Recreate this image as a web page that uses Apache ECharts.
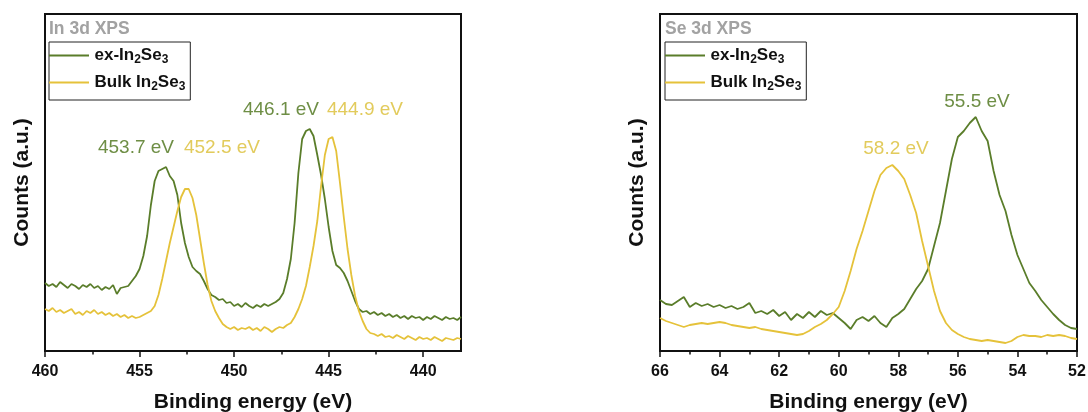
<!DOCTYPE html>
<html>
<head>
<meta charset="utf-8">
<script src="https://cdn.jsdelivr.net/npm/echarts@6/dist/echarts.min.js"></script>
<style>
  html, body { margin: 0; padding: 0; background: #fff; }
  #chart { width: 1088px; height: 412px; }
</style>
</head>
<body>
<div id="chart"></div>
<script>
// In 3d spectra: [binding energy (eV), counts (a.u.)]
const inExSpectrum = [[460.0,68],[459.8,65],[459.6,67],[459.4,64],[459.2,69],[459.0,66],[458.8,63],[458.6,67],[458.4,65],[458.2,62],[458.0,66],[457.8,64],[457.6,67],[457.4,63],[457.2,65],[457.0,61],[456.8,64],[456.6,62],[456.4,66],[456.2,57],[456.0,63],[455.8,64],[455.6,65],[455.4,70],[455.2,75],[455.0,82],[454.8,95],[454.6,115],[454.4,146],[454.2,170],[454.0,180],[453.8,182],[453.6,184],[453.4,175],[453.2,170],[453.0,156],[452.8,128],[452.6,108],[452.4,94],[452.2,84],[452.0,80],[451.8,77],[451.6,70],[451.4,62],[451.2,56],[451.0,54],[450.8,51],[450.6,52],[450.4,48],[450.2,49],[450.0,45],[449.8,47],[449.6,44],[449.4,48],[449.2,45],[449.0,43],[448.8,46],[448.6,44],[448.4,47],[448.2,45],[448.0,47],[447.8,49],[447.6,52],[447.4,58],[447.2,72],[447.0,92],[446.8,128],[446.6,178],[446.4,212],[446.2,220],[446.0,222],[445.8,215],[445.6,196],[445.4,176],[445.2,152],[445.0,124],[444.8,100],[444.6,86],[444.4,83],[444.2,78],[444.0,70],[443.8,60],[443.6,50],[443.4,42],[443.2,39],[443.0,40],[442.8,37],[442.6,39],[442.4,36],[442.2,38],[442.0,35],[441.8,37],[441.6,34],[441.4,36],[441.2,33],[441.0,35],[440.8,32],[440.6,35],[440.4,33],[440.2,34],[440.0,31],[439.8,34],[439.6,32],[439.4,35],[439.2,33],[439.0,31],[438.8,34],[438.6,32],[438.4,33],[438.2,31],[438.0,34]];

const inBulkSpectrum = [[460.0,42],[459.8,40],[459.6,43],[459.4,39],[459.2,41],[459.0,38],[458.8,40],[458.6,42],[458.4,37],[458.2,39],[458.0,36],[457.8,40],[457.6,38],[457.4,41],[457.2,37],[457.0,39],[456.8,36],[456.6,38],[456.4,35],[456.2,37],[456.0,34],[455.8,36],[455.6,33],[455.4,35],[455.2,33],[455.0,34],[454.8,36],[454.6,38],[454.4,40],[454.2,45],[454.0,56],[453.8,72],[453.6,90],[453.4,108],[453.2,124],[453.0,140],[452.8,154],[452.6,162],[452.4,162],[452.2,153],[452.0,136],[451.8,112],[451.6,88],[451.4,66],[451.2,50],[451.0,40],[450.8,33],[450.6,27],[450.4,24],[450.2,22],[450.0,24],[449.8,21],[449.6,23],[449.4,22],[449.2,24],[449.0,21],[448.8,23],[448.6,20],[448.4,24],[448.2,22],[448.0,19],[447.8,22],[447.6,24],[447.4,23],[447.2,26],[447.0,28],[446.8,34],[446.6,42],[446.4,52],[446.2,65],[446.0,84],[445.8,105],[445.6,130],[445.4,165],[445.2,196],[445.0,212],[444.8,214],[444.6,200],[444.4,168],[444.2,134],[444.0,102],[443.8,76],[443.6,55],[443.4,40],[443.2,30],[443.0,22],[442.8,18],[442.6,17],[442.4,15],[442.2,17],[442.0,14],[441.8,15],[441.6,13],[441.4,16],[441.2,14],[441.0,12],[440.8,15],[440.6,13],[440.4,11],[440.2,14],[440.0,12],[439.8,13],[439.6,11],[439.4,14],[439.2,12],[439.0,10],[438.8,13],[438.6,12],[438.4,11],[438.2,13],[438.0,12]];

// Se 3d spectra
const seExSpectrum = [[66.0,51],[65.8,47],[65.6,46],[65.4,50],[65.2,54],[65.0,44],[64.8,48],[64.6,45],[64.4,47],[64.2,44],[64.0,46],[63.8,43],[63.6,45],[63.4,42],[63.2,44],[63.0,48],[62.8,38],[62.6,40],[62.4,37],[62.2,41],[62.0,35],[61.8,39],[61.6,31],[61.4,37],[61.2,33],[61.0,39],[60.8,34],[60.6,40],[60.4,36],[60.2,38],[60.0,33],[59.8,28],[59.6,22],[59.4,31],[59.2,34],[59.0,30],[58.8,35],[58.6,28],[58.4,24],[58.2,33],[58.0,37],[57.8,42],[57.6,52],[57.4,62],[57.2,70],[57.0,82],[56.8,105],[56.6,128],[56.4,160],[56.2,192],[56.0,214],[55.8,220],[55.6,228],[55.4,234],[55.2,220],[55.0,210],[54.8,180],[54.6,156],[54.4,140],[54.2,116],[54.0,96],[53.8,82],[53.6,68],[53.4,60],[53.2,51],[53.0,44],[52.8,37],[52.6,31],[52.4,26],[52.2,23],[52.0,22]];

const seBulkSpectrum = [[66.0,33],[65.8,30],[65.6,28],[65.4,26],[65.2,24],[65.0,26],[64.8,27],[64.6,28],[64.4,27],[64.2,28],[64.0,29],[63.8,28],[63.6,26],[63.4,25],[63.2,24],[63.0,23],[62.8,24],[62.6,22],[62.4,21],[62.2,20],[62.0,19],[61.8,18],[61.6,17],[61.4,16],[61.2,17],[61.0,20],[60.8,24],[60.6,27],[60.4,31],[60.2,37],[60.0,44],[59.8,60],[59.6,80],[59.4,102],[59.2,120],[59.0,140],[58.8,160],[58.6,176],[58.4,183],[58.2,186],[58.0,180],[57.8,172],[57.6,156],[57.4,138],[57.2,110],[57.0,85],[56.8,60],[56.6,40],[56.4,28],[56.2,21],[56.0,17],[55.8,14],[55.6,12],[55.4,11],[55.2,10],[55.0,11],[54.8,10],[54.6,9],[54.4,8],[54.2,10],[54.0,14],[53.8,16],[53.6,15],[53.4,15],[53.2,14],[53.0,16],[52.8,15],[52.6,16],[52.4,15],[52.2,13],[52.0,12]];

// Axis ticks
const inMajorTicks = [460, 455, 450, 445, 440];
const inMinorTicks = [457.5, 452.5, 447.5, 442.5];
const seMajorTicks = [66, 64, 62, 60, 58, 56, 54, 52];

// Series names and peak annotations
const seriesNames = ['ex-In2Se3', 'Bulk In2Se3'];
const panelTitles = ['In 3d XPS', 'Se 3d XPS'];
const peakLabels = ['453.7 eV', '452.5 eV', '446.1 eV', '444.9 eV', '58.2 eV', '55.5 eV'];

const GREEN = '#5a7d2a';
const YELLOW = '#e5c23a';
const GREEN_TXT = '#6e8e45';
const YELLOW_TXT = '#e2cb5c';
const FONT = '"Liberation Sans", Arial, sans-serif';

const chart = echarts.init(document.getElementById('chart'), null, { renderer: 'canvas' });

function subscriptName(name) {
  // ex-In2Se3 -> rich text with subscript digits
  return name.split(/(\d)/).filter(s => s.length)
    .map(s => /\d/.test(s) ? '{s|' + s + '}' : '{n|' + s + '}').join('');
}

const legendRich = {
  n: { fontSize: 17, fontWeight: 'bold', color: '#111', fontFamily: FONT },
  s: { fontSize: 12, fontWeight: 'bold', color: '#111', fontFamily: FONT, padding: [9, 0, 0, 0] }
};

function legendFor(left) {
  return {
    data: seriesNames,
    orient: 'vertical',
    left: left, top: 42,
    icon: 'path://M0,0H40V2H0Z',
    itemWidth: 41, itemHeight: 2, itemGap: 8,
    padding: [5, 5, 7, 0],
    borderColor: '#222', borderWidth: 1,
    selectedMode: false,
    formatter: subscriptName,
    textStyle: { rich: legendRich, fontFamily: FONT }
  };
}

const frameGrid = (left, width) => ({
  left: left, top: 14, width: width, height: 337,
  containLabel: false, outerBoundsMode: 'none',
  show: true, borderColor: '#111', borderWidth: 2, backgroundColor: 'transparent'
});

const axisName = { fontSize: 21, fontWeight: 'bold', color: '#111', fontFamily: FONT };
const tickLabel = { show: true, margin: 13, fontSize: 16, fontWeight: 'bold', color: '#111', fontFamily: FONT };

function energyAxis(gridIndex, min, max, opts) {
  return Object.assign({
    gridIndex: gridIndex, type: 'value', inverse: true, min: min, max: max,
    name: 'Binding energy (eV)', nameLocation: 'middle', nameGap: 41,
    nameTextStyle: axisName,
    axisLine: { show: true, onZero: false, lineStyle: { color: '#111', width: 2 } },
    splitLine: { show: false }
  }, opts);
}

function countsAxis(gridIndex) {
  return {
    gridIndex: gridIndex, type: 'value', min: 0, max: 337,
    name: 'Counts (a.u.)', nameLocation: 'middle', nameGap: 12, nameRotate: 90,
    nameTextStyle: axisName,
    axisLine: { show: false }, axisTick: { show: false },
    axisLabel: { show: false }, splitLine: { show: false }
  };
}

function lineSeries(name, color, xi, yi, data) {
  return {
    name: name, type: 'line', xAxisIndex: xi, yAxisIndex: yi, data: data,
    symbol: 'none', smooth: false, animation: false,
    lineStyle: { color: color, width: 1.8 }, itemStyle: { color: color }
  };
}

const peakText = { fontSize: 19, fontFamily: FONT };

const option = {
  backgroundColor: '#fff',
  animation: false,
  title: [
    { text: panelTitles[0], left: 49, top: 20, padding: 0,
      textStyle: { fontSize: 17.5, fontWeight: 'bold', color: '#a2a2a2', fontFamily: FONT } },
    { text: panelTitles[1], left: 665, top: 20, padding: 0,
      textStyle: { fontSize: 17.5, fontWeight: 'bold', color: '#a2a2a2', fontFamily: FONT } }
  ],
  legend: [legendFor(49), legendFor(665)],
  grid: [frameGrid(45, 416), frameGrid(660, 417)],
  xAxis: [
    energyAxis(0, 438, 460, {
      axisTick: { show: true, length: 6, customValues: inMajorTicks, lineStyle: { color: '#111', width: 1.5 } },
      axisLabel: Object.assign({ customValues: inMajorTicks }, tickLabel)
    }),
    energyAxis(1, 52, 66, {
      interval: 2,
      axisTick: { show: true, length: 6, lineStyle: { color: '#111', width: 1.5 } },
      axisLabel: Object.assign({ customValues: seMajorTicks }, tickLabel),
      minorTick: { show: true, splitNumber: 2, length: 3.5, lineStyle: { color: '#111', width: 1.5 } }
    }),
    // minor ticks of the In 3d energy axis
    {
      gridIndex: 0, type: 'value', inverse: true, min: 438, max: 460, position: 'bottom',
      axisLine: { show: false },
      axisTick: { show: true, length: 3.5, customValues: inMinorTicks, lineStyle: { color: '#111', width: 1.5 } },
      axisLabel: { show: false }, splitLine: { show: false }
    }
  ],
  yAxis: [countsAxis(0), countsAxis(1)],
  series: [
    lineSeries(seriesNames[0], GREEN, 0, 0, inExSpectrum),
    lineSeries(seriesNames[1], YELLOW, 0, 0, inBulkSpectrum),
    lineSeries(seriesNames[0], GREEN, 1, 1, seExSpectrum),
    lineSeries(seriesNames[1], YELLOW, 1, 1, seBulkSpectrum)
  ],
  graphic: [
    { type: 'text', x: 136, y: 148, style: Object.assign({ text: peakLabels[0], fill: GREEN_TXT, align: 'center', verticalAlign: 'middle' }, peakText) },
    { type: 'text', x: 222, y: 148, style: Object.assign({ text: peakLabels[1], fill: YELLOW_TXT, align: 'center', verticalAlign: 'middle' }, peakText) },
    { type: 'text', x: 281, y: 110, style: Object.assign({ text: peakLabels[2], fill: GREEN_TXT, align: 'center', verticalAlign: 'middle' }, peakText) },
    { type: 'text', x: 365, y: 110, style: Object.assign({ text: peakLabels[3], fill: YELLOW_TXT, align: 'center', verticalAlign: 'middle' }, peakText) },
    { type: 'text', x: 896, y: 149, style: Object.assign({ text: peakLabels[4], fill: YELLOW_TXT, align: 'center', verticalAlign: 'middle' }, peakText) },
    { type: 'text', x: 977, y: 102, style: Object.assign({ text: peakLabels[5], fill: GREEN_TXT, align: 'center', verticalAlign: 'middle' }, peakText) }
  ]
};

chart.setOption(option);
</script>
</body>
</html>
